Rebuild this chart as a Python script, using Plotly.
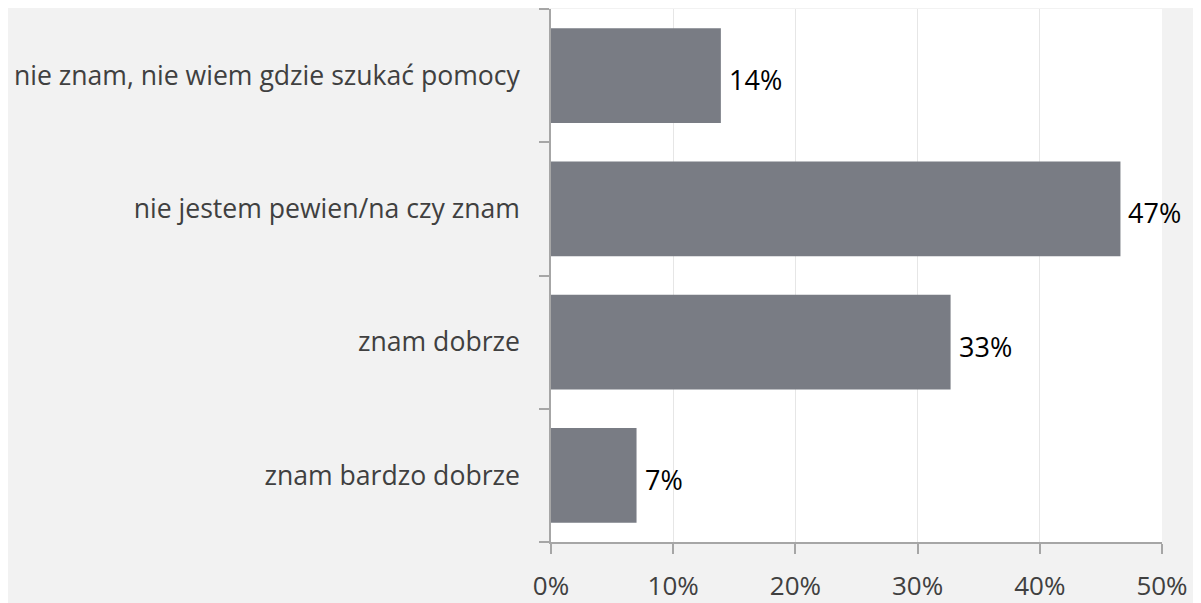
import plotly.graph_objects as go

categories = ["nie znam, nie wiem gdzie szukać pomocy", "nie jestem pewien/na czy znam", "znam dobrze", "znam bardzo dobrze"]
values = [13.9, 46.6, 32.7, 7.0]
value_labels = ["14%", "47%", "33%", "7%"]
x_ticks = [0, 10, 20, 30, 40, 50]
x_tick_labels = ["0%", "10%", "20%", "30%", "40%", "50%"]

# the page body adds an 8px margin around the figure
W, H = 1193, 595
L, R, T, B = 543, 39, 1, 61

fig = go.Figure()
fig.add_trace(go.Bar(
    y=categories, x=values, orientation="h",
    marker=dict(color="#797c84", line=dict(width=0)),
    hoverinfo="skip",
))

for c, v, t in zip(categories, values, value_labels):
    fig.add_annotation(x=v, y=c, text=t, showarrow=False, xanchor="left",
                       xshift=6, yshift=-4,
                       font=dict(family="Open Sans", size=27, color="#000000"))

fig.update_layout(
    width=W, height=H,
    margin=dict(l=L, r=R, t=T, b=B, pad=0, autoexpand=False),
    paper_bgcolor="#f2f2f2", plot_bgcolor="#ffffff",
    bargap=0.29, showlegend=False,
    font=dict(family="Open Sans", color="#404040"),
)
fig.update_xaxes(
    range=[0, 50], tickmode="array", tickvals=x_ticks, ticktext=x_tick_labels,
    showgrid=True, gridcolor="#e6e6e6", gridwidth=1,
    showline=True, linecolor="#a6a6a6", linewidth=1.5,
    ticks="outside", ticklen=10, tickcolor="#a6a6a6", tickwidth=1.5,
    tickfont=dict(family="Open Sans", size=26, color="#404040"),
    ticklabelstandoff=10, zeroline=False, fixedrange=True, automargin=False,
)
fig.update_yaxes(
    categoryorder="array", categoryarray=categories[::-1],
    showline=True, linecolor="#a6a6a6", linewidth=1.5,
    ticks="outside", ticklen=10, tickcolor="#a6a6a6", tickwidth=1.5,
    tickson="boundaries", showgrid=False,
    tickfont=dict(family="Open Sans", size=26.6, color="#404040"),
    ticklabelstandoff=24, fixedrange=True, automargin=False,
)

fig.write_html("out.html")
